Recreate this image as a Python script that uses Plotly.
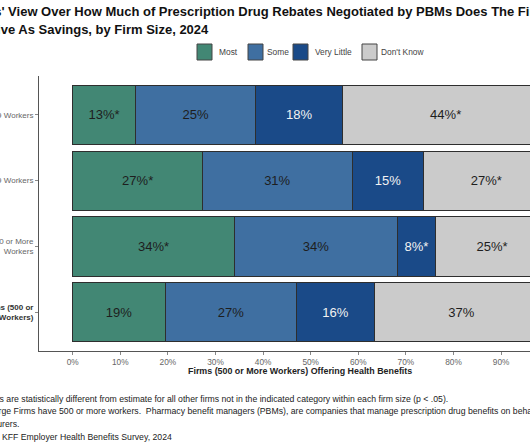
import plotly.graph_objects as go

# ---------------- data ----------------
categories = [
    "500-999 Workers",
    "1,000-4,999 Workers",
    "5,000 or More<br>Workers",
    "<b><span style='color:#333'>All Large Firms (500 or<br>More Workers)</span></b>",
]
series_names = ["Most", "Some", "Very Little", "Don't Know"]
most = [13.2, 27.3, 34.0, 19.5]
some = [25.3, 31.4, 34.2, 27.5]
very_little = [18.2, 15.1, 8.0, 16.4]
dont_know = [43.3, 26.2, 23.8, 36.6]
most_labels = ["13%*", "27%*", "34%*", "19%"]
some_labels = ["25%", "31%", "34%", "27%"]
very_little_labels = ["18%", "15%", "8%*", "16%"]
dont_know_labels = ["44%*", "27%*", "25%*", "37%"]
tick_values = [0, 10, 20, 30, 40, 50, 60, 70, 80, 90, 100]
tick_labels = ["0%", "10%", "20%", "30%", "40%", "50%", "60%", "70%", "80%", "90%", "100%"]

colors = ["#428774", "#3f6fa1", "#1a4a88", "#cbcbcb"]
text_colors = ["#1e1e1e", "#1e1e1e", "#f2f2f2", "#1e1e1e"]

FONT = "Liberation Sans, Arial, sans-serif"
W, H = 530, 442
L, T, B = 39, 76, 351  # plot area pixel box (right edge = figure edge)

def px(x):
    return (x - L) / (W - L)

def py(y):
    return (B - y) / (B - T)

fig = go.Figure()
all_vals = [most, some, very_little, dont_know]
all_labels = [most_labels, some_labels, very_little_labels, dont_know_labels]
for name, vals, labs, c, tc in zip(series_names, all_vals, all_labels, colors, text_colors):
    fig.add_trace(go.Bar(
        y=categories, x=vals, name=name, orientation="h",
        marker=dict(color=c, line=dict(color="#2e2e2e", width=1)),
        text=labs, textposition="inside", insidetextanchor="middle",
        textfont=dict(family=FONT, size=13, color=tc),
        width=0.9, showlegend=False, hoverinfo="skip",
    ))

fig.update_layout(
    barmode="stack",
    width=W, height=H,
    margin=dict(l=L, r=0, t=T, b=H - B, pad=0, autoexpand=False),
    paper_bgcolor="white", plot_bgcolor="white",
    font=dict(family=FONT, color="#333"),
)
fig.update_xaxes(
    range=[-7.07, 96.07], tickvals=tick_values, ticktext=tick_labels, automargin=False,
    showline=True, linecolor="#555", linewidth=1, showgrid=False, zeroline=False,
    ticks="outside", ticklen=3, tickcolor="#888", tickwidth=1,
    tickfont=dict(family=FONT, size=8.3, color="#666"),
)
fig.update_yaxes(
    categoryorder="array", categoryarray=categories, range=[3.59, -0.59], automargin=False,
    showline=True, linecolor="#555", linewidth=1, showgrid=False, zeroline=False,
    ticks="outside", ticklen=3, tickcolor="#888", tickwidth=1,
    tickfont=dict(family=FONT, size=8, color="#666"),
)

ann = []
# title (left part cut by figure edge)
ann.append(dict(xref="paper", yref="paper", x=px(-36.5), y=py(11), xanchor="left", yanchor="middle",
                text="<b>Firms' View Over How Much of Prescription Drug Rebates Negotiated by PBMs Does The Firm</b>",
                showarrow=False, font=dict(family=FONT, size=13, color="#111")))
ann.append(dict(xref="paper", yref="paper", x=px(-36.5), y=py(29), xanchor="left", yanchor="middle",
                text="<b>Receive As Savings, by Firm Size, 2024</b>",
                showarrow=False, font=dict(family=FONT, size=13, color="#111")))
# x axis title
ann.append(dict(xref="paper", yref="paper", x=px(300), y=py(371), xanchor="center", yanchor="middle",
                text="<b>Firms (500 or More Workers) Offering Health Benefits</b>",
                showarrow=False, font=dict(family=FONT, size=8.9, color="#222")))
# legend
shapes = []
leg_box_x = [197, 248, 293, 362]
leg_txt_x = [217, 265, 313, 379]
for name, c, bx, tx in zip(series_names, colors, leg_box_x, leg_txt_x):
    shapes.append(dict(type="rect", xref="paper", yref="paper", x0=px(bx), x1=px(bx + 15),
                       y0=py(60), y1=py(44), fillcolor=c, line=dict(color="#444", width=1)))
    ann.append(dict(xref="paper", yref="paper", x=px(tx), y=py(52), xanchor="left", yanchor="middle",
                    text=name, showarrow=False, font=dict(family=FONT, size=8.4, color="#444")))
# footnotes
notes = [
    "* Estimates are statistically different from estimate for all other firms not in the indicated category within each firm size (p &lt; .05).",
    "NOTE: Large Firms have 500 or more workers.&nbsp; Pharmacy benefit managers (PBMs), are companies that manage prescription drug benefits on behalf of",
    "health insurers.",
    "SOURCE: KFF Employer Health Benefits Survey, 2024",
]
note_y = [399, 411, 424, 437]
for t, yy in zip(notes, note_y):
    ann.append(dict(xref="paper", yref="paper", x=px(-42.5), y=py(yy), xanchor="left", yanchor="middle",
                    text=t, showarrow=False, font=dict(family=FONT, size=8.7, color="#222")))

fig.update_layout(annotations=ann, shapes=shapes)
fig.write_html("out.html", config={"displayModeBar": False})

# remove the browser's default page margin so the figure sits at the window origin
with open("out.html", "r", encoding="utf-8") as f:
    html = f.read()
html = html.replace("<head>", "<head><style>html,body{margin:0;padding:0;overflow:hidden;}</style>", 1)
with open("out.html", "w", encoding="utf-8") as f:
    f.write(html)
